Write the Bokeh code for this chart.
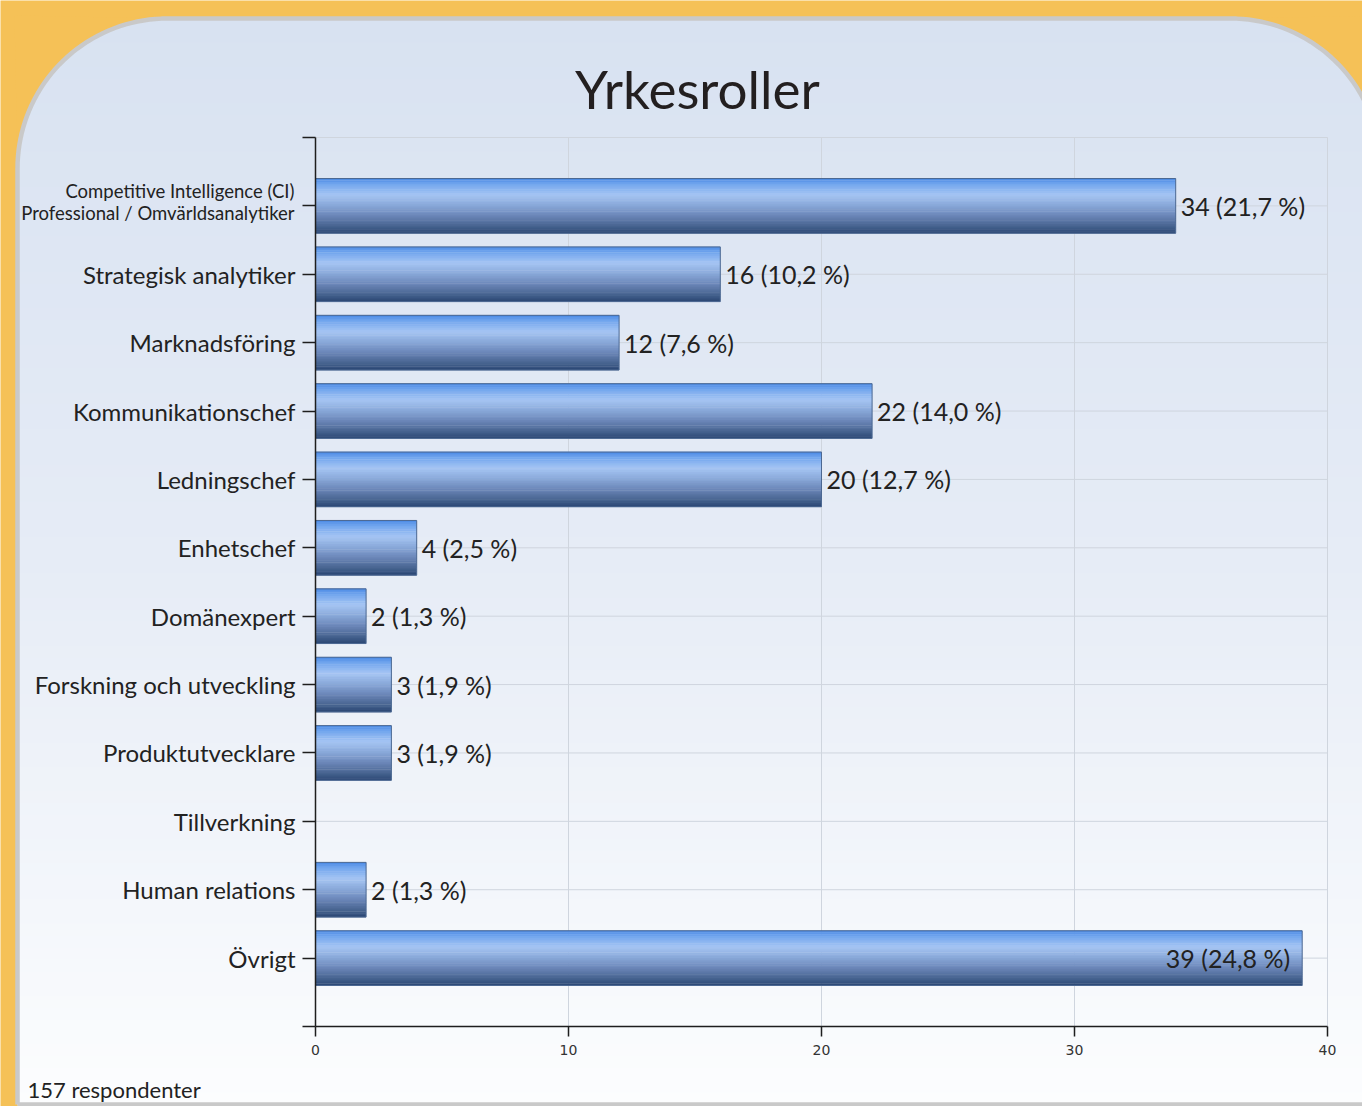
import numpy as np
from bokeh.plotting import figure
from bokeh.models import Range1d, LinearAxis, FixedTicker
from bokeh.core.properties import value
from bokeh.embed import file_html
from bokeh.resources import INLINE

# ---------------- data ----------------
title_text = "Yrkesroller"
categories = [
    "Competitive Intelligence (CI)\nProfessional / Omvärldsanalytiker",
    "Strategisk analytiker",
    "Marknadsföring",
    "Kommunikationschef",
    "Ledningschef",
    "Enhetschef",
    "Domänexpert",
    "Forskning och utveckling",
    "Produktutvecklare",
    "Tillverkning",
    "Human relations",
    "Övrigt",
]
counts = [34, 16, 12, 22, 20, 4, 2, 3, 3, 0, 2, 39]
total_respondents = 157
x_ticks = [0, 10, 20, 30, 40]
footer_text = "157 respondenter"

# ---------------- layout (reference pixel geometry) ----------------
W, H = 1362, 1106
FIG_L, FIG_T = 0, 0
PLOT_L, PLOT_R, PLOT_T, PLOT_B = 315, 1327, 137, 1026
FONT = "Lato"
ORANGE = "#F5C157"
BORDER = "#C9C9C9"
TEXT = "#222222"

n = len(categories)
xmax = x_ticks[-1]
ppu_x = (PLOT_R - PLOT_L) / xmax
xs0 = 0 - (PLOT_L - FIG_L) / ppu_x
xs1 = xmax + (FIG_L + W - PLOT_R) / ppu_x
ppu_y = (PLOT_B - PLOT_T) / (n + 1)
ys0 = -1 - (FIG_T + H - PLOT_B) / ppu_y
ys1 = n + (PLOT_T - FIG_T) / ppu_y

pos = [n - 1 - k for k in range(n)]

p = figure(width=W, height=H, x_range=Range1d(xs0, xs1), y_range=Range1d(ys0, ys1),
           x_axis_location=None, y_axis_location=None, toolbar_location=None,
           output_backend="svg", min_border=0, outline_line_color=None,
           background_fill_color=ORANGE, border_fill_color=ORANGE)
p.grid.visible = False
p.extra_x_ranges = {"px": Range1d(FIG_L, FIG_L + W)}
p.extra_y_ranges = {"px": Range1d(FIG_T + H, FIG_T)}


def hex2rgb(h):
    h = h.lstrip("#")
    return [int(h[i:i + 2], 16) for i in (0, 2, 4)]


def interp(stops, t):
    for (t0, c0), (t1, c1) in zip(stops[:-1], stops[1:]):
        if t0 <= t <= t1:
            a = (t - t0) / (t1 - t0) if t1 > t0 else 0
            r0, r1 = hex2rgb(c0), hex2rgb(c1)
            return "#%02x%02x%02x" % tuple(int(round(r0[i] + (r1[i] - r0[i]) * a)) for i in range(3))
    return stops[-1][1]


# ---------------- panel background ----------------
PAN_L, PAN_R, PAN_T, PAN_B, RAD = 17, 1380, 18, 1104, 150
panel_stops = [(0, "#D8E2F1"), (0.5, "#E6ECF6"), (1, "#FCFDFE")]
NS = 90
edges = np.linspace(PAN_T, PAN_B, NS + 1)
p.quad(left=[PAN_L] * NS, right=[PAN_R] * NS, top=list(edges[:-1]), bottom=list(edges[1:] + 1),
       fill_color=[interp(panel_stops, (i + 0.5) / NS) for i in range(NS)], line_color=None,
       x_range_name="px", y_range_name="px")

th1 = np.linspace(np.pi, 1.5 * np.pi, 40)
arc1x = PAN_L + RAD + RAD * np.cos(th1)
arc1y = PAN_T + RAD + RAD * np.sin(th1)
th2 = np.linspace(1.5 * np.pi, 2 * np.pi, 40)
arc2x = PAN_R - RAD + RAD * np.cos(th2)
arc2y = PAN_T + RAD + RAD * np.sin(th2)
p.patch(list(arc1x) + [PAN_L - 3], list(arc1y) + [PAN_T - 3], fill_color=ORANGE, line_color=None,
        x_range_name="px", y_range_name="px")
p.patch(list(arc2x) + [PAN_R + 3], list(arc2y) + [PAN_T - 3], fill_color=ORANGE, line_color=None,
        x_range_name="px", y_range_name="px")
bx = [PAN_L, PAN_L] + list(arc1x) + list(arc2x) + [PAN_R, PAN_R, PAN_L]
by = [PAN_B, PAN_T + RAD] + list(arc1y) + list(arc2y) + [PAN_B, PAN_B, PAN_B]
p.line(bx, by, line_color=BORDER, line_width=4.5, line_join="round",
       x_range_name="px", y_range_name="px")

# ---------------- grid ----------------
GRID = "#CFD5DE"
p.segment(x0=x_ticks[1:], x1=x_ticks[1:], y0=[-1] * (len(x_ticks) - 1), y1=[n] * (len(x_ticks) - 1),
          line_color=GRID, line_width=1)
p.segment(x0=[0] * (n + 1), x1=[xmax] * (n + 1), y0=pos + [n], y1=pos + [n], line_color=GRID, line_width=1)

# ---------------- bars (vertical gradient strips) ----------------
BAR_H = 0.8
bar_stops = [(0, "#4A89E4"), (0.1, "#71A5EE"), (0.3, "#A5C5F3"), (0.5, "#88A7D8"),
             (0.7, "#6883B5"), (0.88, "#46638F"), (1.0, "#2A4673")]
NB = 30
sy, sr, sc = [], [], []
for k in range(n):
    for j in range(NB):
        t = (j + 0.5) / NB
        sy.append(pos[k] + BAR_H / 2 - t * BAR_H)
        sr.append(counts[k])
        sc.append(interp(bar_stops, t))
p.hbar(y=sy, height=BAR_H / NB * 1.25, left=0, right=sr, fill_color=sc, line_color=None)
nz = [k for k in range(n) if counts[k] > 0]
p.hbar(y=[pos[k] for k in nz], height=BAR_H, left=0, right=[counts[k] for k in nz],
       fill_color=None, line_color="#4C6892", line_width=1)

# ---------------- value labels ----------------
labels = [f"{c} ({c / total_respondents * 100:.1f} %)".replace(".", ",") for c in counts]
inside = [k for k in nz if counts[k] > 0.9 * xmax]
outside = [k for k in nz if k not in inside]
p.text(x=[counts[k] for k in outside], y=[pos[k] for k in outside], text=[labels[k] for k in outside],
       x_offset=5, text_align="left", text_baseline="middle", text_font=value(FONT),
       text_font_size="25px", text_color=TEXT)
p.text(x=[counts[k] for k in inside], y=[pos[k] for k in inside], text=[labels[k] for k in inside],
       x_offset=-12, text_align="right", text_baseline="middle", text_font=value(FONT),
       text_font_size="25px", text_color=TEXT)

# ---------------- axes ----------------
overrides = {-1: "", n: ""}
for k in range(n):
    overrides[pos[k]] = "" if "\n" in categories[k] else categories[k]
yaxis = LinearAxis(fixed_location=0, ticker=FixedTicker(ticks=list(range(-1, n + 1))), bounds=(-1, n),
                   axis_line_color="#1E1E1E", axis_line_width=1.5,
                   major_tick_line_color="#1E1E1E", major_tick_line_width=1.5,
                   major_tick_out=13, major_tick_in=0, minor_tick_line_color=None,
                   major_label_overrides=overrides, major_label_standoff=7,
                   major_label_text_font=FONT, major_label_text_font_size="24px",
                   major_label_text_color=TEXT)
p.add_layout(yaxis, "left")
xaxis = LinearAxis(fixed_location=-1, ticker=FixedTicker(ticks=x_ticks), bounds=(0, xmax),
                   axis_line_color="#1E1E1E", axis_line_width=1.5,
                   major_tick_line_color="#1E1E1E", major_tick_line_width=1.5,
                   major_tick_out=10, major_tick_in=0, minor_tick_line_color=None,
                   major_label_standoff=8, major_label_text_font="DejaVu Sans",
                   major_label_text_font_size="14px", major_label_text_color="#333333")
p.add_layout(xaxis, "below")

# two-line first category label
multi = [k for k in range(n) if "\n" in categories[k]]
p.text(x=[0] * len(multi), y=[pos[k] for k in multi], text=[categories[k] for k in multi],
       x_offset=-21, y_offset=-4, text_align="right", text_baseline="middle",
       text_font=value(FONT), text_font_size="18.5px", text_line_height=1.03, text_color=TEXT)

# ---------------- title & footer ----------------
p.text(x=[697], y=[88], text=[title_text], text_align="center", text_baseline="middle",
       text_font=value(FONT), text_font_size="53px", text_color="#231F20",
       x_range_name="px", y_range_name="px")
p.text(x=[27], y=[1089], text=[footer_text], text_align="left", text_baseline="middle",
       text_font=value(FONT), text_font_size="22px", text_color=TEXT,
       x_range_name="px", y_range_name="px")

open("out.html", "w").write(file_html(p, INLINE))
